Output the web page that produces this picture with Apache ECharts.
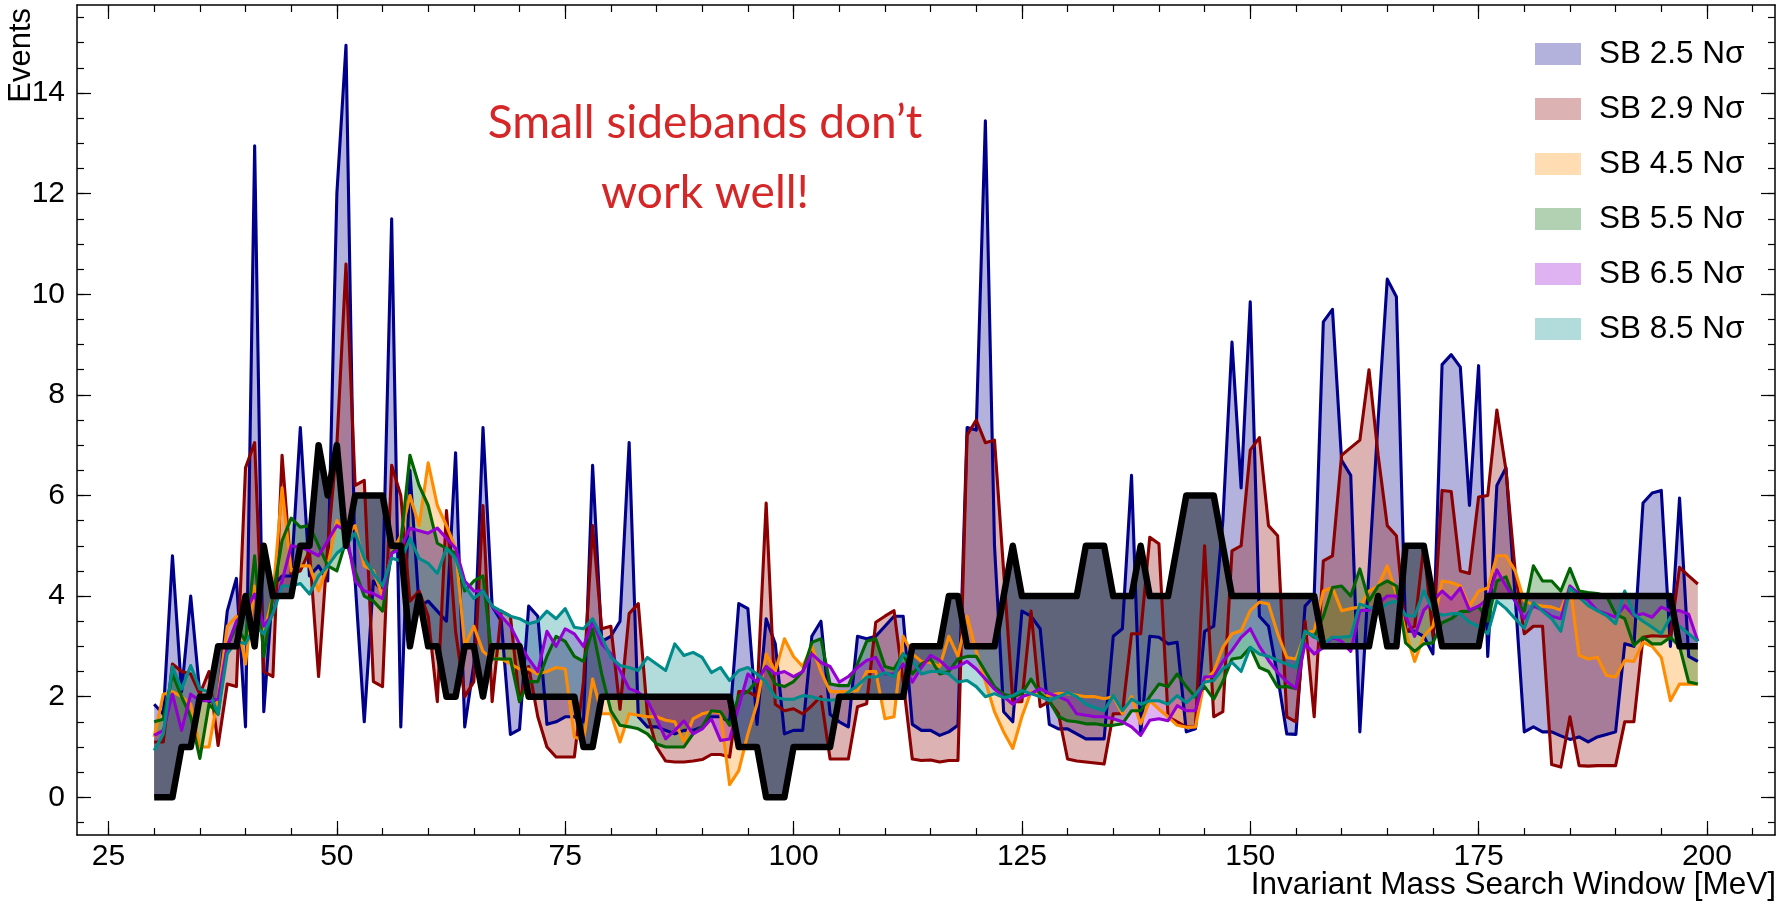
<!DOCTYPE html>
<html><head><meta charset="utf-8">
<script src="https://cdn.jsdelivr.net/npm/echarts@6/dist/echarts.min.js"></script>
<style>html,body{margin:0;padding:0;background:#fff}#chart{width:1789px;height:903px}</style>
</head><body><div id="chart"></div>
<script>
// Invariant mass search window centres (MeV): 30 ... 199
const massWindows = [];
for (let m = 30; m <= 199; m++) massWindows.push(m);

const observed = [
0,0,0,1,1,2,2,3,3,3,
4,3,5,4,4,4,5,5,7,6,
7,5,6,6,6,6,5,5,3,4,
3,3,2,2,3,3,2,3,3,3,
3,2,2,2,2,2,2,1,1,2,
2,2,2,2,2,2,2,2,2,2,
2,2,2,2,1,1,1,0,0,0,
1,1,1,1,1,2,2,2,2,2,
2,2,2,3,3,3,3,4,4,3,
3,3,3,4,5,4,4,4,4,4,
4,4,5,5,5,4,4,4,5,4,
4,4,5,6,6,6,6,5,4,4,
4,4,4,4,4,4,4,4,3,3,
3,3,3,3,4,3,3,5,5,5,
4,3,3,3,3,3,4,4,4,4,
4,4,4,4,4,4,4,4,4,4,
4,4,4,4,4,4,4,3,3,3];

const sb25 = [
1.85,1.65,4.8,2.1,4.0,2.05,1.9,1.95,3.7,4.35,
1.4,12.95,1.7,4.2,4.4,4.4,7.35,4.4,4.6,4.3,
12.0,14.95,4.3,1.5,4.3,4.1,11.5,1.4,6.5,3.8,
3.9,3.7,3.5,6.85,1.4,2.65,7.35,3.8,3.5,1.25,
1.35,3.8,3.6,1.45,1.5,1.6,1.6,1.5,6.6,3.1,
3.2,3.5,7.05,1.6,1.4,1.4,1.33,1.26,1.33,1.33,
1.4,1.6,1.6,1.5,3.85,3.75,1.45,3.55,3.05,1.26,
1.33,1.33,3.2,3.5,1.65,1.5,1.4,3.2,3.15,3.2,
3.4,3.6,3.6,1.45,1.33,1.33,1.23,1.3,1.43,7.35,
7.3,13.45,5.0,1.7,1.5,3.7,3.6,3.35,1.45,1.36,
1.36,1.26,1.16,1.16,1.16,3.2,3.35,6.4,1.26,3.2,
3.18,3.05,3.08,1.3,1.36,3.3,3.4,5.5,9.05,6.15,
9.85,3.6,3.4,2.4,1.26,1.25,3.8,4.0,9.45,9.7,
6.7,6.4,1.3,4.5,7.5,10.3,9.95,3.3,3.3,3.2,
2.85,8.6,8.8,8.55,5.8,8.58,2.8,6.2,6.55,4.0,
1.3,1.4,1.3,1.3,1.22,1.15,1.2,1.1,1.2,1.25,
1.3,3.05,3.0,5.85,6.05,6.1,3.0,5.95,2.8,2.7];

const sb29 = [
1.1,1.1,2.65,2.5,2.45,2.05,2.5,1.03,2.25,2.2,
6.55,7.05,2.5,2.4,6.8,4.45,4.5,4.9,2.4,5.0,
7.0,10.6,6.2,6.3,2.3,2.2,6.6,6.0,3.9,4.1,
3.6,1.9,5.7,3.3,2.0,2.3,5.8,1.9,3.7,3.6,
1.9,2.6,1.6,1.0,0.8,0.8,0.8,2.3,5.4,3.35,
3.4,1.75,3.65,3.85,1.65,1.0,0.72,0.7,0.7,0.72,
0.75,0.85,0.85,0.8,2.1,2.1,2.0,5.85,1.85,1.72,
1.76,1.66,1.82,2.0,0.76,0.76,0.76,1.8,1.86,3.48,
3.6,3.71,2.3,0.76,0.73,0.74,0.7,0.73,0.73,7.2,
7.5,7.05,7.1,4.5,1.9,1.9,3.7,1.8,1.9,1.66,
0.76,0.72,0.7,0.68,0.66,1.66,1.66,3.25,3.25,5.17,
5.04,1.6,1.5,1.4,1.4,5.0,1.6,1.7,4.9,5.0,
6.9,7.15,5.4,5.2,1.6,1.5,3.5,1.6,4.7,4.8,
6.8,6.95,7.1,8.5,6.8,5.4,5.2,3.3,3.4,5.0,
3.2,6.1,6.08,4.5,4.45,5.97,6.0,7.7,6.5,4.5,
3.25,3.4,3.4,0.65,0.6,1.6,0.63,0.62,0.63,0.63,
0.63,1.5,1.5,3.18,3.21,3.2,3.2,4.57,4.4,4.24];

const sb45 = [
1.2,2.05,2.1,2.0,1.85,1.0,1.0,2.0,3.4,3.6,
2.65,4.2,3.25,4.0,6.15,4.5,4.6,4.6,4.1,4.6,
5.5,5.2,5.4,4.6,4.5,4.0,4.85,5.2,6.0,5.4,
6.65,5.8,5.4,4.95,3.0,3.4,2.9,2.75,2.75,2.65,
2.55,2.55,2.45,2.5,2.58,2.55,1.2,1.13,2.35,1.66,
1.66,1.1,1.66,1.63,1.6,1.6,1.53,1.5,1.1,1.56,
1.66,1.7,1.68,0.25,0.53,1.26,1.86,2.85,2.5,3.15,
2.8,2.6,3.0,2.5,2.1,2.1,2.1,2.12,2.5,2.5,
1.56,1.6,3.2,2.85,2.7,2.68,2.6,3.2,2.8,3.6,
2.9,2.3,1.7,1.3,0.97,1.6,2.1,2.0,2.03,2.06,
2.06,2.03,2.0,2.0,1.96,2.0,1.66,2.0,1.46,1.92,
1.75,1.6,1.43,1.39,1.4,2.32,2.5,2.98,3.25,3.31,
3.71,3.88,3.84,3.25,2.78,2.75,3.25,3.31,4.1,4.17,
3.71,3.75,3.78,4.1,4.2,4.6,4.05,3.3,2.7,3.2,
3.4,4.3,4.27,4.2,3.8,4.1,4.16,4.8,4.8,4.5,
3.9,3.83,3.8,3.78,3.72,4.2,2.82,2.75,2.78,2.42,
2.39,2.72,2.7,3.08,3.0,2.78,1.92,2.25,2.25,2.25];

const sb55 = [
1.5,1.55,2.45,2.0,1.6,0.77,1.85,1.65,3.0,3.4,
3.1,4.8,2.8,4.0,5.1,5.55,5.37,5.4,5.0,4.6,
4.5,5.1,4.5,4.0,3.9,3.7,4.85,5.05,6.8,6.2,
5.8,5.05,4.95,4.85,4.1,4.3,4.4,2.75,2.75,2.75,
1.9,2.3,2.3,2.8,3.2,3.1,2.8,2.7,3.35,2.45,
1.72,1.43,1.4,1.36,1.26,1.06,1.0,1.0,1.0,1.26,
1.4,1.72,1.7,1.43,2.02,2.1,2.32,2.6,2.25,2.2,
2.3,2.5,3.08,3.15,2.25,2.22,2.22,2.65,3.1,3.15,
2.6,2.55,2.85,2.45,2.65,2.75,2.45,2.5,2.75,2.8,
2.8,2.5,2.2,2.05,2.0,2.06,2.35,2.06,1.92,1.6,
1.52,1.5,1.46,1.46,1.43,1.43,1.46,1.72,1.72,2.0,
2.25,2.2,2.45,2.2,1.99,2.2,1.95,2.3,2.75,2.78,
2.98,2.58,2.5,2.19,2.2,2.16,3.31,3.18,3.6,4.17,
4.2,4.0,4.54,3.9,4.2,4.3,4.2,3.07,2.9,3.05,
3.07,3.47,3.55,3.69,3.7,3.8,3.5,4.3,4.38,3.9,
3.7,4.6,4.3,4.3,4.1,4.55,4.1,4.07,4.05,4.0,
3.64,3.55,3.02,3.18,3.05,3.05,3.18,3.0,2.29,2.25];

const sb65 = [
1.23,1.33,2.05,1.33,2.05,1.92,1.92,1.95,3.0,3.5,
3.7,4.04,3.4,3.65,4.3,5.0,4.97,4.9,4.8,5.1,
5.4,5.3,4.3,4.1,4.05,3.95,4.85,4.95,5.35,5.3,
5.25,5.35,5.15,4.95,4.3,4.1,4.1,3.8,3.6,3.4,
3.05,2.75,2.5,3.3,3.0,3.35,3.25,3.0,3.5,3.05,
2.85,2.52,2.16,2.09,1.92,1.56,1.16,1.33,1.52,1.26,
1.36,1.56,1.13,1.16,1.8,2.45,2.29,2.6,2.45,2.5,
2.4,2.5,2.85,2.68,2.6,2.29,2.4,2.58,2.72,2.78,
2.45,2.45,2.65,2.29,2.58,2.82,2.72,2.55,2.6,2.7,
2.55,2.35,2.15,2.0,1.85,2.0,2.06,2.16,2.06,2.0,
1.92,1.66,1.63,1.6,1.6,1.56,1.5,1.4,1.23,1.53,
1.56,1.52,1.82,1.72,1.72,2.39,2.4,2.7,2.92,3.18,
3.35,3.0,2.72,2.48,2.3,2.16,3.05,2.85,2.98,3.18,
3.1,2.9,3.71,3.72,3.85,4.0,4.0,3.6,3.2,3.72,
3.9,4.1,3.94,4.16,3.72,3.8,3.94,4.52,4.2,3.9,
3.55,3.8,3.72,3.6,3.55,4.2,4.04,3.91,3.71,3.65,
3.58,3.81,3.61,3.65,3.58,3.78,3.7,3.71,3.64,3.1];

const sb85 = [
0.93,1.26,2.6,2.15,2.62,2.15,2.1,1.66,2.85,3.1,
3.05,3.4,3.25,3.65,4.2,4.2,4.25,4.04,4.4,4.6,
4.85,5.0,5.25,4.75,4.45,4.2,4.75,4.7,5.15,4.75,
4.65,4.45,4.95,4.75,4.2,3.95,4.1,3.8,3.7,3.6,
3.55,3.45,3.5,3.7,3.55,3.75,3.38,3.35,3.55,3.18,
2.78,2.62,2.58,2.52,2.78,2.65,2.52,3.05,2.82,2.88,
2.78,2.48,2.58,2.32,2.52,2.58,2.45,2.29,1.99,1.95,
1.95,2.02,2.0,1.95,1.93,1.95,2.09,2.22,2.39,2.39,
2.48,2.4,2.85,2.72,2.45,2.5,2.5,2.45,2.29,2.32,
2.2,2.0,2.06,1.98,2.02,2.12,2.06,2.0,1.92,2.0,
2.08,2.0,1.85,1.78,1.72,2.02,1.72,1.95,1.85,1.92,
1.92,1.85,2.02,1.88,2.04,2.29,2.32,2.55,2.68,2.5,
2.98,2.85,2.8,2.72,2.65,2.58,3.3,3.2,3.05,3.18,
3.18,3.2,3.84,3.78,3.7,3.85,3.9,3.62,3.6,4.1,
3.72,3.62,3.65,3.65,3.48,3.4,3.25,3.9,3.75,3.55,
3.36,3.87,3.7,3.55,3.3,4.16,3.98,3.81,3.71,3.61,
3.45,4.1,3.64,3.5,3.38,3.25,3.58,3.4,3.25,3.1];

const seriesNames = ['SB 2.5 Nσ','SB 2.9 Nσ','SB 4.5 Nσ','SB 5.5 Nσ','SB 6.5 Nσ','SB 8.5 Nσ'];
const seriesValues = [sb25, sb29, sb45, sb55, sb65, sb85];
const lineColors = ['#00008b','#8b0000','#ff8c00','#006400','#9400d3','#008b8b'];
const fillColors = ['rgba(0,0,139,0.3)','rgba(139,0,0,0.3)','rgba(255,140,0,0.3)','rgba(0,100,0,0.3)','rgba(148,0,211,0.3)','rgba(0,139,139,0.3)'];

const xMajorTicks = [25,50,75,100,125,150,175,200];
const xMinorTicks = [25,30,35,40,45,50,55,60,65,70,75,80,85,90,95,100,105,110,115,120,125,130,135,140,145,150,155,160,165,170,175,180,185,190,195,200,205];
const yMajorTicks = [0,2,4,6,8,10,12,14];
const yMinorTicks = [-0.5,0,0.5,1,1.5,2,2.5,3,3.5,4,4.5,5,5.5,6,6.5,7,7.5,8,8.5,9,9.5,10,10.5,11,11.5,12,12.5,13,13.5,14,14.5,15,15.5];

const X_MIN = 21.55, X_MAX = 207.45, Y_MIN = -0.75, Y_MAX = 15.75;
const FONT = "'Liberation Sans', Arial, Helvetica, sans-serif";

function xAxisDef(pos, ticks, len, withLabels, withLine) {
  return {
    type: 'value', position: pos, min: X_MIN, max: X_MAX, z: 10,
    axisLine: { show: withLine, onZero: false, lineStyle: { color: '#000', width: 1.5 } },
    axisTick: { show: true, inside: true, length: len, customValues: ticks, lineStyle: { color: '#000', width: 1.2 } },
    axisLabel: withLabels ? { show: true, customValues: ticks, fontSize: 30, fontFamily: FONT, color: '#000', margin: 7 } : { show: false },
    splitLine: { show: false }
  };
}
function yAxisDef(pos, ticks, len, withLabels, withLine) {
  return {
    type: 'value', position: pos, min: Y_MIN, max: Y_MAX, z: 10,
    axisLine: { show: withLine, onZero: false, lineStyle: { color: '#000', width: 1.5 } },
    axisTick: { show: true, inside: true, length: len, customValues: ticks, lineStyle: { color: '#000', width: 1.2 } },
    axisLabel: withLabels ? { show: true, customValues: ticks, fontSize: 30, fontFamily: FONT, color: '#000', margin: 12 } : { show: false },
    splitLine: { show: false }
  };
}

function makeFill(values, fill) {
  return function (params, api) {
    const pts = [];
    for (let i = 0; i < massWindows.length; i++) pts.push(api.coord([massWindows[i], values[i]]));
    for (let i = massWindows.length - 1; i >= 0; i--) pts.push(api.coord([massWindows[i], observed[i]]));
    return { type: 'polygon', shape: { points: pts }, style: { fill: fill, stroke: null }, silent: true };
  };
}

const series = [];
seriesNames.forEach((n, k) => {
  series.push({
    type: 'custom', name: n, xAxisIndex: 0, yAxisIndex: 0, z: 2, silent: true,
    itemStyle: { color: fillColors[k] },
    renderItem: makeFill(seriesValues[k], fillColors[k]),
    data: [[massWindows[0], observed[0]]]
  });
});
seriesNames.forEach((n, k) => {
  series.push({
    type: 'line', name: n + ' line', xAxisIndex: 0, yAxisIndex: 0, z: 3, silent: true,
    showSymbol: false, symbol: 'none',
    lineStyle: { color: lineColors[k], width: 3.1, join: 'round' },
    data: massWindows.map((x, i) => [x, seriesValues[k][i]])
  });
});
series.push({
  type: 'line', name: 'Observed', xAxisIndex: 0, yAxisIndex: 0, z: 4, silent: true,
  showSymbol: false, symbol: 'none',
  lineStyle: { color: '#000', width: 6.5, join: 'round' },
  data: massWindows.map((x, i) => [x, observed[i]])
});

const chart = echarts.init(document.getElementById('chart'), null, { renderer: 'canvas' });
chart.setOption({
  animation: false,
  backgroundColor: '#fff',
  grid: { left: 77, right: 14, top: 5, bottom: 68, outerBoundsMode: 'none', containLabel: false },
  xAxis: [
    xAxisDef('bottom', xMajorTicks, 14, true, true),
    xAxisDef('bottom', xMinorTicks, 7, false, false),
    xAxisDef('top', xMajorTicks, 14, false, true),
    xAxisDef('top', xMinorTicks, 7, false, false)
  ],
  yAxis: [
    yAxisDef('left', yMajorTicks, 14, true, true),
    yAxisDef('left', yMinorTicks, 7, false, false),
    yAxisDef('right', yMajorTicks, 14, false, true),
    yAxisDef('right', yMinorTicks, 7, false, false)
  ],
  legend: {
    orient: 'vertical', left: 1535, top: 38, padding: 0,
    itemWidth: 46, itemHeight: 22, itemGap: 23, selectedMode: false,
    textStyle: { fontSize: 31.5, fontFamily: FONT, color: '#000', lineHeight: 22, padding: [0, 0, 0, 13] },
    data: seriesNames.map((n, k) => ({ name: n, icon: 'rect', itemStyle: { color: fillColors[k], borderWidth: 0 } }))
  },
  graphic: [
    { type: 'text', x: 705, y: 123, silent: true,
      style: { text: 'Small sidebands don’t', fill: '#d62728', font: "46px Lato, 'Open Sans', sans-serif", align: 'center', verticalAlign: 'middle' } },
    { type: 'text', x: 705, y: 193, silent: true,
      style: { text: 'work well!', fill: '#d62728', font: "46px Lato, 'Open Sans', sans-serif", align: 'center', verticalAlign: 'middle' } },
    { type: 'text', x: 1776, y: 885, silent: true,
      style: { text: 'Invariant Mass Search Window [MeV]', fill: '#000', font: "31.5px " + FONT, align: 'right', verticalAlign: 'middle' } },
    { type: 'text', x: 21, y: 8, rotation: Math.PI / 2, silent: true,
      style: { text: 'Events', fill: '#000', font: "31px " + FONT, align: 'right', verticalAlign: 'middle' } }
  ],
  series: series
});
</script></body></html>
